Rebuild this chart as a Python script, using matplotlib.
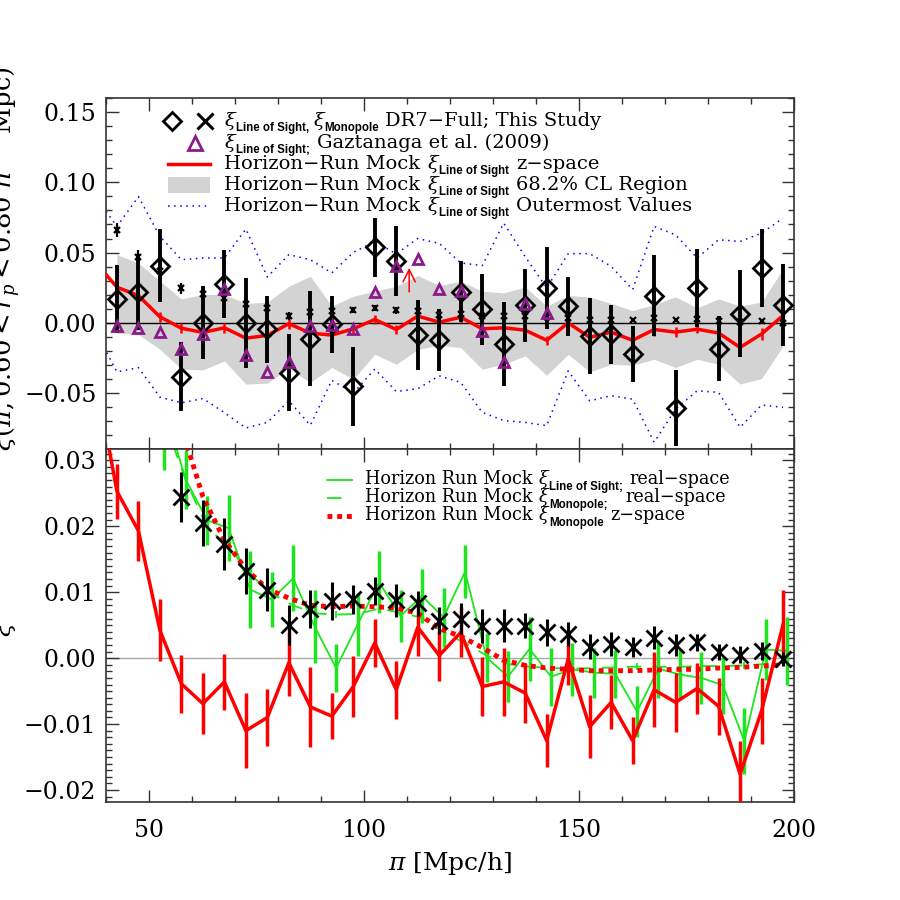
"""Line-of-sight correlation function: DR7 data vs Horizon-Run mocks (two panels)."""
import matplotlib
matplotlib.use("Agg")
import matplotlib.pyplot as plt
from matplotlib.ticker import MultipleLocator, FuncFormatter, NullFormatter
from matplotlib.patches import Rectangle

plt.rcParams["font.family"] = ["DejaVu Serif"]
plt.rcParams["mathtext.fontset"] = "dejavuserif"

# ---- data ----
pi_bins = [42.5, 47.5, 52.5, 57.5, 62.5, 67.5, 72.5, 77.5, 82.5, 87.5, 92.5,
           97.5, 102.5, 107.5, 112.5, 117.5, 122.5, 127.5, 132.5, 137.5, 142.5,
           147.5, 152.5, 157.5, 162.5, 167.5, 172.5, 177.5, 182.5, 187.5,
           192.5, 197.5]
pi_mock = [37.5] + pi_bins

# DR7 xi line of sight (diamonds)
xi_los = [0.017, 0.0217, 0.0407, -0.0383, 0.0, 0.0277, 0.0, -0.0047, -0.0355,
          -0.0113, -0.0012, -0.0454, 0.0537, 0.0442, -0.0087, -0.0125, 0.0222,
          0.0095, -0.0154, 0.0125, 0.0248, 0.0118, -0.0095, -0.0083, -0.0225,
          0.0194, -0.061, 0.0248, -0.0184, 0.0064, 0.039, 0.0125]
err_los = [0.024, 0.027, 0.026, 0.0245, 0.026, 0.024, 0.032, 0.024, 0.0275,
           0.034, 0.020, 0.028, 0.021, 0.025, 0.025, 0.022, 0.022, 0.025, 0.030,
           0.026, 0.029, 0.021, 0.027, 0.021, 0.020, 0.029, 0.027, 0.028, 0.023,
           0.031, 0.028, 0.029]

# DR7 xi monopole (crosses)
xi_mono = [0.066, 0.047, 0.037, 0.0245, 0.0205, 0.0173, 0.0132, 0.0104, 0.0050,
           0.0075, 0.0087, 0.0089, 0.0102, 0.0088, 0.0083, 0.0057, 0.0060,
           0.0049, 0.0049, 0.0049, 0.0039, 0.0037, 0.0017, 0.0021, 0.0017,
           0.0031, 0.0020, 0.0024, 0.0009, 0.0005, 0.0011, -0.0001]
err_mono = [0.005, 0.0045, 0.004, 0.0038, 0.0035, 0.0039, 0.0035, 0.0032, 0.003,
            0.0029, 0.0029, 0.0022, 0.0021, 0.0025, 0.0019, 0.0021, 0.0024,
            0.0026, 0.0025, 0.0019, 0.0021, 0.0018, 0.0019, 0.0018, 0.0015,
            0.0017, 0.0016, 0.0013, 0.0012, 0.0013, 0.0014, 0.0011]

# Gaztanaga et al. (2009)
pi_gaz = pi_bins[:21]
xi_gaz = [-0.0024, -0.0035, -0.0066, -0.0184, -0.0083, 0.0241, -0.0232, -0.035,
          -0.0279, -0.0024, -0.0019, -0.0047, 0.0217, 0.0407, 0.0454, 0.0241,
          0.0225, -0.0059, -0.0279, 0.013, 0.0071]

# Horizon-Run mock, xi line of sight, z-space (mean and error)
mock_los_z = [0.043, 0.0253, 0.0193, 0.0042, -0.0039, -0.0069, -0.0036, -0.011,
              -0.009, -0.0007, -0.0074, -0.0088, -0.0043, 0.0023, -0.0048, 0.0047,
              0.0004, 0.0039, -0.0043, -0.0036, -0.0053, -0.0125, -0.0001,
              -0.0104, -0.0067, -0.0125, -0.0048, -0.0067, -0.0046, -0.0073,
              -0.0176, -0.008, 0.0051]
err_los_z = [0.0045, 0.0042, 0.0045, 0.0047, 0.0044, 0.0046, 0.0043, 0.0057,
             0.0043, 0.005, 0.006, 0.0035, 0.0047, 0.0037, 0.0044, 0.0044, 0.0039,
             0.0038, 0.0044, 0.0052, 0.0045, 0.004, 0.0039, 0.0048, 0.0041,
             0.0035, 0.0057, 0.0045, 0.0038, 0.0043, 0.005, 0.005, 0.0052]

# 68.2% CL region
band_hi = [0.0485, 0.0426, 0.0296, 0.017, 0.0201, 0.0201, 0.0137, 0.0147, 0.026,
           0.0331, 0.0118, 0.0189, 0.0225, 0.026, 0.0336, 0.0265, 0.0296, 0.0225,
           0.0213, 0.0255, 0.0118, 0.0194, 0.0184, 0.0137, 0.0087, 0.013, 0.0184,
           0.0106, 0.017, 0.0118, 0.0147, 0.0383]
band_lo = [-0.0075, -0.0083, -0.019, -0.033, -0.0336, -0.0272, -0.0437, -0.043,
           -0.0326, -0.0425, -0.0319, -0.0402, -0.0225, -0.0296, -0.019, -0.016,
           -0.0177, -0.0331, -0.0296, -0.0236, -0.0374, -0.0225, -0.035, -0.0296,
           -0.0303, -0.026, -0.0319, -0.026, -0.0296, -0.0437, -0.0397, -0.0165]

# outermost values
outer_hi = [0.09, 0.0686, 0.0898, 0.0615, 0.0449, 0.0461, 0.0461, 0.0667, 0.0326,
            0.0485, 0.0449, 0.0355, 0.0501, 0.0579, 0.049, 0.060, 0.0565, 0.0426,
            0.0407, 0.0709, 0.047, 0.0248, 0.0492, 0.0492, 0.0402, 0.0236, 0.0686,
            0.0626, 0.0461, 0.0591, 0.0579, 0.0638, 0.0745]
outer_lo = [-0.006, -0.035, -0.032, -0.053, -0.057, -0.054, -0.064, -0.075, -0.071,
            -0.0556, -0.073, -0.041, -0.050, -0.033, -0.049, -0.047, -0.0378,
            -0.0425, -0.0638, -0.0697, -0.071, -0.0733, -0.0343, -0.0556, -0.052,
            -0.0544, -0.0851, -0.0615, -0.0485, -0.0496, -0.0745, -0.0586, -0.0603]

# bottom panel mock curves (start at 52.5 / 57.5)
pi_real = pi_bins[2:]
mock_los_real = [0.038, 0.0271, 0.0209, 0.0197, 0.0104, 0.0089, 0.0121, 0.0048,
                 -0.0015, 0.0051, 0.0115, 0.0064, 0.0094, 0.0062, 0.0131, 0.0001,
                 -0.0028, 0.0014, -0.0028, -0.0017, -0.0022, -0.0024, -0.0081,
                 -0.0016, -0.0025, -0.003, -0.0041, -0.0126, 0.0013, 0.0011]
err_los_real = [0.0095, 0.0045, 0.0037, 0.005, 0.0058, 0.0042, 0.005, 0.0055,
                0.0037, 0.0048, 0.0047, 0.004, 0.0041, 0.0045, 0.004, 0.0037,
                0.0039, 0.0048, 0.0044, 0.004, 0.0038, 0.0037, 0.0038, 0.0044,
                0.0039, 0.004, 0.0043, 0.005, 0.0046, 0.0052]
mock_mono_real = [0.036, 0.027, 0.0198, 0.0169, 0.0127, 0.0098, 0.008, 0.0068,
                  0.0066, 0.0067, 0.0075, 0.0069, 0.0061, 0.0039, 0.0023, 0.0004,
                  -0.0009, -0.0013, -0.0015, -0.0016, -0.0015, -0.0014, -0.0013,
                  -0.0013, -0.0013, -0.0012, -0.0012, -0.0011, -0.0009, -0.0006]
err_mono_real = [0.001, 0.001, 0.001, 0.0009, 0.0008, 0.0007, 0.0006, 0.0006,
                 0.0005, 0.0005, 0.0005, 0.0005, 0.0005, 0.0005, 0.0005, 0.0005,
                 0.0005, 0.0005, 0.0005, 0.0005, 0.0005, 0.0005, 0.0005, 0.0005,
                 0.0005, 0.0005, 0.0005, 0.0005, 0.0005, 0.0005]
pi_mono_z = pi_bins[3:]
mock_mono_z = [0.035, 0.0245, 0.0179, 0.0135, 0.0105, 0.0091, 0.008, 0.0078,
               0.0079, 0.0078, 0.0076, 0.0068, 0.0045, 0.0033, 0.0016, -0.0003,
               -0.0011, -0.0015, -0.0017, -0.0019, -0.0019, -0.0019, -0.0018,
               -0.0017, -0.0017, -0.0015, -0.0014, -0.0012, -0.001]

GREEN = "#1ee61e"
PURPLE = "#8b1a8b"


def minus_fmt(v, pos):
    return f"{v:.2f}".replace("-", "\u2212")


def style_axis(ax):
    ax.set_xlim(40, 200)
    ax.xaxis.set_major_locator(MultipleLocator(50))
    ax.xaxis.set_minor_locator(MultipleLocator(10))
    ax.tick_params(which="both", direction="in", top=True, right=True,
                   labelsize=17, width=1.0, color="#333333")
    ax.tick_params(which="major", length=9, pad=7)
    ax.tick_params(which="minor", length=4.5)
    ax.tick_params(axis="x", pad=12)
    ax.yaxis.set_major_formatter(FuncFormatter(minus_fmt))
    for sp in ax.spines.values():
        sp.set_linewidth(1.2)
        sp.set_color("#333333")


def rich_text(ax, x, y, segments, size, sub_size=8.3):
    """Chain text pieces left to right on one baseline.
    segments: (text, kind, gap in points); kind is 'rm', 'gr' or 'sub'."""
    T = ax.transAxes
    prev = None
    for s, kind, gap in segments:
        kw = dict(fontsize=size, family="DejaVu Serif")
        dy = 0
        if kind == "gr":
            kw["style"] = "italic"
        elif kind == "sub":
            kw = dict(fontsize=sub_size, family="Liberation Sans",
                      weight="bold")
            dy = -3.8
        if prev is None:
            xyc, xy = T, (x, y)
        else:
            xyc, xy = (prev, T), (1, y)
        prev = ax.annotate(s, xy=xy, xycoords=xyc, xytext=(gap, dy),
                           textcoords="offset points", va="baseline",
                           ha="left", annotation_clip=False, **kw)


fig = plt.figure(figsize=(9, 9), dpi=100)
ax1 = fig.add_axes([0.118, 0.501, 0.764, 0.390])
ax2 = fig.add_axes([0.118, 0.109, 0.764, 0.392])

# ---------------- top panel ----------------
ax1.fill_between(pi_bins, band_lo, band_hi, color="#d3d3d3", lw=0, zorder=1)
ax1.plot(pi_mock, outer_hi, color="blue", ls=(0, (1, 3)), lw=1.1, zorder=2)
ax1.plot(pi_mock, outer_lo, color="blue", ls=(0, (1, 3)), lw=1.1, zorder=2)
ax1.axhline(0, color="black", lw=1.0, zorder=2)
ax1.errorbar(pi_mock, mock_los_z, yerr=[e * 0.8 for e in err_los_z], color="red",
             lw=2.5, elinewidth=1.8, capsize=0, zorder=3)
ax1.errorbar(pi_bins, xi_mono, yerr=err_mono, fmt="x", color="black", ms=4.5,
             mew=1.6, elinewidth=1.6, capsize=0, zorder=4)
ax1.errorbar(pi_bins, xi_los, yerr=err_los, fmt="D", color="black", mfc="none",
             ms=9, mew=2.0, elinewidth=2.8, capsize=0, zorder=5)
ax1.plot(pi_gaz, xi_gaz, "^", color=PURPLE, mfc="none", ms=7.5, mew=2.0,
         ls="none", zorder=6)
ax1.annotate("", xy=(110.5, 0.041), xytext=(110.5, 0.020),
             arrowprops=dict(arrowstyle="->", color="red", lw=1.1,
                             mutation_scale=22), zorder=6)

style_axis(ax1)
ax1.set_ylim(-0.09, 0.16)
ax1.yaxis.set_major_locator(MultipleLocator(0.05))
ax1.yaxis.set_minor_locator(MultipleLocator(0.01))
ax1.xaxis.set_major_formatter(NullFormatter())

# legend (top)
T = ax1.transAxes
rows = [0.934, 0.872, 0.812, 0.752, 0.692]
ax1.plot([0.096], [rows[0]], "D", color="black", mfc="none", ms=9, mew=2,
         transform=T, clip_on=False)
ax1.plot([0.144], [rows[0]], "x", color="black", ms=11, mew=2.2,
         transform=T, clip_on=False)
ax1.plot([0.129], [rows[1]], "^", color=PURPLE, mfc="none", ms=10, mew=2,
         transform=T, clip_on=False)
ax1.plot([0.09, 0.151], [rows[2], rows[2]], color="red", lw=2.5, transform=T)
ax1.add_patch(Rectangle((0.09, rows[3] - 0.022), 0.061, 0.044, transform=T,
                        color="#d3d3d3", lw=0))
ax1.plot([0.09, 0.151], [rows[4], rows[4]], color="blue", ls=(0, (1, 3)),
         lw=1.1, transform=T)

M = "\u2212"
top_segments = [
    [("ξ", "gr", 0), ("Line of Sight,", "sub", 0.5), ("ξ", "gr", 3),
     ("Monopole", "sub", 0.5), ("DR7" + M + "Full; This Study", "rm", 4)],
    [("ξ", "gr", 0), ("Line of Sight;", "sub", 0.5),
     ("Gaztanaga et al. (2009)", "rm", 5)],
    [("Horizon" + M + "Run Mock", "rm", 0), ("ξ", "gr", 5),
     ("Line of Sight", "sub", 0.5), ("z" + M + "space", "rm", 5)],
    [("Horizon" + M + "Run Mock", "rm", 0), ("ξ", "gr", 5),
     ("Line of Sight", "sub", 0.5), ("68.2% CL Region", "rm", 5)],
    [("Horizon" + M + "Run Mock", "rm", 0), ("ξ", "gr", 5),
     ("Line of Sight", "sub", 0.5), ("Outermost Values", "rm", 5)],
]
for y, segs in zip(rows, top_segments):
    rich_text(ax1, 0.172, y - 0.013, segs, size=14)

# ---------------- bottom panel ----------------
ax2.axhline(0, color="#aaaaaa", lw=1.0, zorder=1)
ax2.errorbar(pi_mock, mock_los_z, yerr=err_los_z, color="red", lw=2.5,
             elinewidth=2.5, capsize=0, zorder=3)
ax2.errorbar([p + 1.0 for p in pi_real], mock_los_real, yerr=err_los_real,
             color=GREEN, lw=1.3, elinewidth=2.5, capsize=0, zorder=2)
ax2.errorbar([p + 1.0 for p in pi_real], mock_mono_real, yerr=err_mono_real,
             color=GREEN, lw=1.3, ls=(0, (8, 6)), elinewidth=1.3, capsize=0,
             zorder=2)
ax2.plot(pi_mono_z, mock_mono_z, color="red", ls=(0, (1, 1)), lw=3.5, zorder=3)
ax2.errorbar(pi_bins, xi_mono, yerr=err_mono, fmt="x", color="black", ms=11,
             mew=2.0, elinewidth=2.2, capsize=0, zorder=4)

style_axis(ax2)
ax2.set_ylim(-0.0218, 0.0317)
ax2.yaxis.set_major_locator(MultipleLocator(0.01))
ax2.yaxis.set_minor_locator(MultipleLocator(0.001))
ax2.xaxis.set_major_formatter(FuncFormatter(lambda v, p: f"{v:.0f}"))
ax2.set_xlabel(r"$\pi$ [Mpc/h]", fontsize=18, labelpad=6)

# legend (bottom)
T2 = ax2.transAxes
rows2 = [0.912, 0.861, 0.810]
ax2.plot([0.321, 0.358], [rows2[0]] * 2, color=GREEN, lw=1.3, transform=T2)
ax2.plot([0.321, 0.358], [rows2[1]] * 2, color=GREEN, lw=1.3,
         ls=(0, (8, 6)), transform=T2)
ax2.plot([0.321, 0.358], [rows2[2]] * 2, color="red", lw=3.5,
         ls=(0, (1, 1)), transform=T2)
bot_segments = [
    [("Horizon Run Mock", "rm", 0), ("ξ", "gr", 4.5),
     ("Line of Sight;", "sub", 0.5), ("real" + M + "space", "rm", 5)],
    [("Horizon Run Mock", "rm", 0), ("ξ", "gr", 4.5),
     ("Monopole;", "sub", 0.5), ("real" + M + "space", "rm", 13)],
    [("Horizon Run Mock", "rm", 0), ("ξ", "gr", 4.5),
     ("Monopole", "sub", 0.5), ("z" + M + "space", "rm", 5)],
]
for y, segs in zip(rows2, bot_segments):
    rich_text(ax2, 0.376, y - 0.012, segs, size=12.7)

# y labels (partly cut by the figure edge, as in the original)
fig.text(0.005, 0.713, r"$\xi(\pi, 0.60<r_p<0.80\ h^{-1}$ Mpc$)$",
         rotation=90, ha="center", va="center", fontsize=18.5)
fig.text(0.005, 0.302, r"$\xi$", rotation=90, ha="center", va="center",
         fontsize=18)

fig.savefig("out.png", dpi=100)
